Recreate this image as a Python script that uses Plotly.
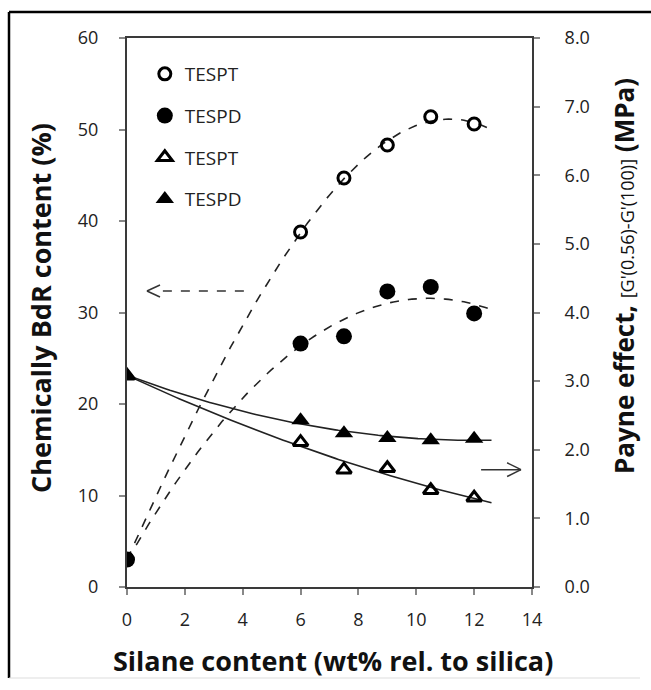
import numpy as np
import plotly.graph_objects as go

# Silane loading (wt% relative to silica)
silane = [0, 6, 7.5, 9, 10.5, 12]

# Chemically bound rubber content (%) - left axis
bdr_tespt = [3.0, 38.8, 44.7, 48.3, 51.4, 50.6]
bdr_tespd = [3.0, 26.6, 27.4, 32.3, 32.8, 29.9]

# Payne effect G'(0.56)-G'(100) (MPa) - right axis
payne_tespt = [3.08, 2.11, 1.71, 1.73, 1.41, 1.30]
payne_tespd = [3.08, 2.43, 2.24, 2.17, 2.14, 2.16]

x_ticks = [0, 2, 4, 6, 8, 10, 12, 14]
left_ticks = [0, 10, 20, 30, 40, 50, 60]
right_ticks = [0, 1, 2, 3, 4, 5, 6, 7, 8]

FONT = "Open Sans"

# polynomial trendlines through the measured points
x_fit = np.linspace(0, 12.6, 120)


def trend(y, deg):
    return np.polyval(np.polyfit(silane, y, deg), x_fit)


fig = go.Figure()

fig.add_trace(go.Scatter(x=x_fit, y=trend(bdr_tespt, 3), mode="lines", showlegend=False,
                         line=dict(color="#222", width=1.6, dash="dash"), hoverinfo="skip"))
fig.add_trace(go.Scatter(x=x_fit, y=trend(bdr_tespd, 2), mode="lines", showlegend=False,
                         line=dict(color="#222", width=1.6, dash="dash"), hoverinfo="skip"))
fig.add_trace(go.Scatter(x=x_fit, y=trend(payne_tespt, 2), mode="lines", showlegend=False, yaxis="y2",
                         line=dict(color="#222", width=1.6), hoverinfo="skip"))
fig.add_trace(go.Scatter(x=x_fit, y=trend(payne_tespd, 2), mode="lines", showlegend=False, yaxis="y2",
                         line=dict(color="#222", width=1.6), hoverinfo="skip"))

# measured points
fig.add_trace(go.Scatter(x=silane, y=bdr_tespt, mode="markers", name="TESPT", legendgroup="a",
                         marker=dict(symbol="circle-open", size=12, color="black",
                                     line=dict(width=3, color="black"))))
fig.add_trace(go.Scatter(x=silane, y=bdr_tespd, mode="markers", name="TESPD", legendgroup="b",
                         marker=dict(symbol="circle", size=16, color="black")))
fig.add_trace(go.Scatter(x=silane, y=payne_tespt, mode="markers", name="TESPT", legendgroup="c",
                         yaxis="y2",
                         marker=dict(symbol="triangle-up-open", size=13, color="black",
                                     line=dict(width=3, color="black"))))
fig.add_trace(go.Scatter(x=silane, y=payne_tespd, mode="markers", name="TESPD", legendgroup="d",
                         yaxis="y2",
                         marker=dict(symbol="triangle-up", size=16, color="black")))

axis_line = "#3a3a3a"
tick_font = dict(family=FONT, size=18, color="#222")

fig.update_layout(
    width=651, height=690,
    margin=dict(l=127, r=119, t=38, b=103),
    paper_bgcolor="white", plot_bgcolor="white",
    showlegend=True,
    legend=dict(x=0.044, y=0.969, xanchor="left", yanchor="top",
                font=dict(family=FONT, size=19, color="#222"),
                traceorder="grouped", tracegroupgap=14, bgcolor="rgba(0,0,0,0)"),
    xaxis=dict(range=[0, 14], tickvals=x_ticks, ticks="outside", ticklen=6, tickwidth=1.5,
               tickcolor="#888", showline=True, linecolor=axis_line, linewidth=2, mirror=True,
               showgrid=False, zeroline=False, tickfont=tick_font, ticklabelstandoff=9),
    yaxis=dict(range=[0, 60], tickvals=left_ticks, ticks="outside", ticklen=6, tickwidth=1.5,
               tickcolor="#888", showline=True, linecolor=axis_line, linewidth=2,
               showgrid=False, zeroline=False, tickfont=tick_font, ticklabelstandoff=17),
    yaxis2=dict(range=[0, 8], tickvals=right_ticks, tickformat=".1f", overlaying="y", side="right",
                ticks="outside", ticklen=6, tickwidth=1.5, tickcolor="#888", showline=True,
                linecolor=axis_line, linewidth=2, showgrid=False, zeroline=False,
                tickfont=tick_font, ticklabelstandoff=21),
)

# axis titles
title_font = dict(family=FONT, size=27, color="#111")
fig.add_annotation(text="<b>Silane content (wt% rel. to silica)</b>", xref="paper", yref="paper",
                   x=(333 - 127) / 405, y=(587 - 660) / 549, xanchor="center", yanchor="middle",
                   showarrow=False, font=title_font)
fig.add_annotation(text="<b>Chemically BdR content (%)</b>", xref="paper", yref="paper",
                   x=(40 - 127) / 405, y=(587 - 308) / 549, xanchor="center", yanchor="middle",
                   textangle=-90, showarrow=False, font=title_font)
fig.add_annotation(text="<b>Payne effect,</b> <span style='font-size:18px'>[G'(0.56)-G'(100)]</span> <b>(MPa)</b>",
                   xref="paper", yref="paper",
                   x=(624 - 127) / 405, y=(587 - 276) / 549, xanchor="center", yanchor="middle",
                   textangle=-90, showarrow=False, font=dict(family=FONT, size=26, color="#111"))

# arrow pointing to the left axis (dashed with open head)
ya = 32.35
fig.add_shape(type="line", x0=1.24, x1=4.14, y0=ya, y1=ya, xref="x", yref="y",
              line=dict(color="#333", width=1.5, dash="dash"))
fig.add_shape(type="line", x0=1.14, x1=0.69, y0=ya + 0.66, y1=ya, xref="x", yref="y",
              line=dict(color="#333", width=1.5))
fig.add_shape(type="line", x0=1.14, x1=0.69, y0=ya - 0.66, y1=ya, xref="x", yref="y",
              line=dict(color="#333", width=1.5))

# arrow pointing to the right axis
yb = 1.71
fig.add_shape(type="line", x0=12.24, x1=13.62, y0=yb, y1=yb, xref="x", yref="y2",
              line=dict(color="#333", width=1.5))
fig.add_shape(type="line", x0=13.14, x1=13.62, y0=yb + 0.10, y1=yb, xref="x", yref="y2",
              line=dict(color="#333", width=1.5))
fig.add_shape(type="line", x0=13.14, x1=13.62, y0=yb - 0.10, y1=yb, xref="x", yref="y2",
              line=dict(color="#333", width=1.5))

# outer frame
fx0, fy_top, fy_bot = (9 - 127) / 405, (587 - 12) / 549, (587 - 678) / 549
fig.add_shape(type="line", xref="paper", yref="paper", x0=fx0, x1=fx0, y0=fy_bot, y1=fy_top,
              line=dict(color="black", width=2.5))
fig.add_shape(type="line", xref="paper", yref="paper", x0=fx0, x1=1.35, y0=fy_top, y1=fy_top,
              line=dict(color="black", width=2.5))
fig.add_shape(type="line", xref="paper", yref="paper", x0=fx0, x1=(640 - 127) / 405, y0=fy_bot,
              y1=fy_bot, line=dict(color="#ddd", width=1))

fig.write_html("out.html")
